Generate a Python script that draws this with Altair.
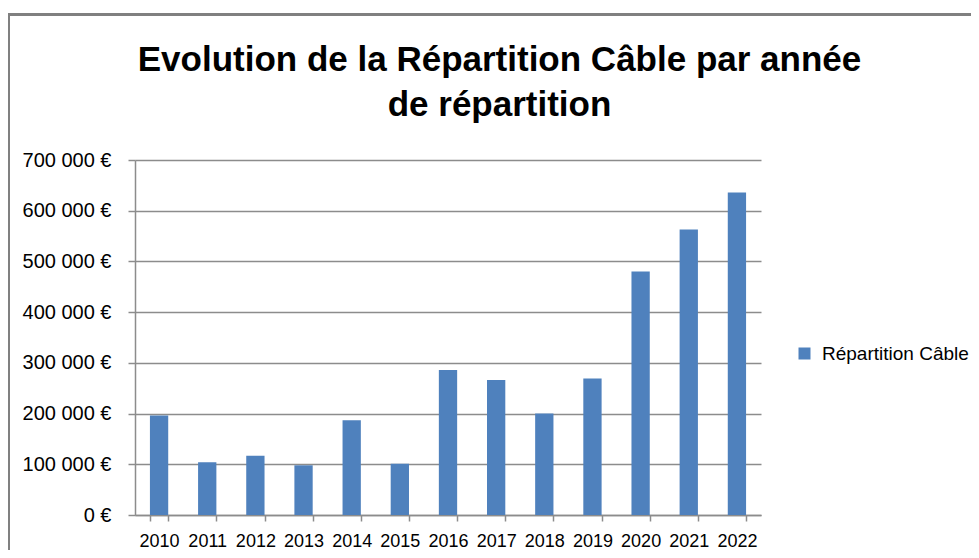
import altair as alt
import pandas as pd

years = ["2010", "2011", "2012", "2013", "2014", "2015", "2016",
         "2017", "2018", "2019", "2020", "2021", "2022"]
values = [196000, 104000, 117000, 98000, 187000, 101000, 286000,
          266000, 200000, 269000, 480000, 563000, 636000]
series = ["Répartition Câble"] * len(years)
title_line1 = "Evolution de la Répartition Câble par année"
title_line2 = "de répartition"

df = pd.DataFrame({"annee": years, "montant": values, "serie": series})

FONT = "Liberation Sans"
GRAY = "#8c8c8c"

bars = alt.Chart(df).mark_bar(color="#4F81BD").encode(
    x=alt.X("annee:N", sort=years, title=None,
            scale=alt.Scale(paddingInner=0.62, paddingOuter=0.31),
            axis=alt.Axis(labelAngle=0, tickBand="extent", tickSize=6,
                          labelPadding=11, labelFontSize=18, grid=False)),
    y=alt.Y("montant:Q", title=None,
            scale=alt.Scale(domain=[0, 700000], nice=False),
            axis=alt.Axis(values=[0, 100000, 200000, 300000, 400000, 500000, 600000, 700000],
                          labelExpr="replace(format(datum.value, ',d'), regexp(',', 'g'), ' ') + ' €'",
                          tickSize=7, labelPadding=17, labelFontSize=20, grid=True)),
    color=alt.Color("serie:N", title=None,
                    scale=alt.Scale(range=["#4F81BD"]),
                    legend=alt.Legend(orient="none", legendX=660, legendY=184,
                                      symbolType="square", symbolSize=144,
                                      symbolStrokeWidth=0, labelFontSize=19,
                                      labelFont=FONT, labelColor="#000000",
                                      labelOffset=8)),
)

title1 = alt.Chart().mark_text(font=FONT, fontSize=35, fontWeight="bold",
                               color="#000000", align="center",
                               baseline="alphabetic").encode(
    x=alt.value(364.5), y=alt.value(-89), text=alt.value(title_line1))
title2 = alt.Chart().mark_text(font=FONT, fontSize=35, fontWeight="bold",
                               color="#000000", align="center",
                               baseline="alphabetic").encode(
    x=alt.value(364.5), y=alt.value(-44), text=alt.value(title_line2))

frame_left = alt.Chart().mark_rule(color="#808080", strokeWidth=3).encode(
    x=alt.value(-126.5), y=alt.value(-145.5), y2=alt.value(440))
frame_top = alt.Chart().mark_rule(color="#808080", strokeWidth=3).encode(
    x=alt.value(-128), x2=alt.value(900), y=alt.value(-145.5))

chart = alt.layer(bars, title1, title2, frame_left, frame_top).properties(
    width=626, height=355,
    autosize=alt.AutoSizeParams(type="none"),
    padding={"left": 127, "top": 152, "right": 210, "bottom": 35},
).configure_view(stroke=None).configure_axis(
    labelFont=FONT, labelColor="#000000",
    domainColor=GRAY, domainWidth=1.5, tickColor=GRAY, tickWidth=1.5,
    gridColor=GRAY, gridWidth=1.5,
)

chart.save("out.html", embed_options={"renderer": "svg", "actions": False})
